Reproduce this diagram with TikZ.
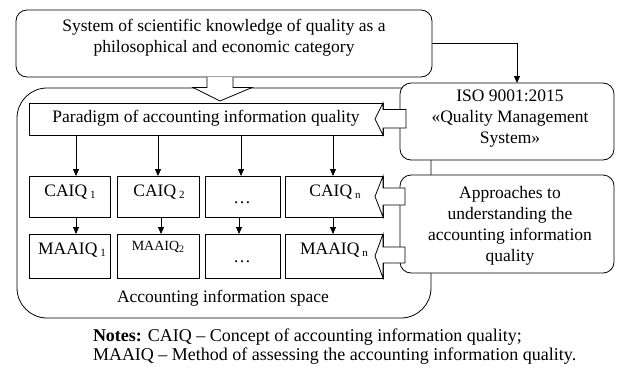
\documentclass[tikz,border=0pt]{standalone}
\usepackage{fontspec}
\setmainfont{Liberation Serif}
\usetikzlibrary{arrows.meta,calc}
\begin{document}
\begin{tikzpicture}[x=1pt,y=-1pt,
  line width=0.8pt,
  every node/.style={font=\fontsize{17.5}{21}\selectfont, inner sep=0pt, outer sep=0pt},
  rbox/.style={draw, fill=white, rounded corners=11pt, align=center},
  sbox/.style={draw, fill=white},
  arr/.style={-{Triangle[length=7pt,width=6pt]}},
  blk/.style={draw, fill=white, line join=miter},
  notefont/.style={font=\fontsize{18}{21}\selectfont}
]
\useasboundingbox (0,0) rectangle (617,367);
% outer space
\node[draw, rounded corners=30pt, minimum width=414pt, minimum height=230pt] (space) at (224,203) {};
\node (spacet) at (223,298) {Accounting information space};
% top box
\node[rbox, minimum width=416pt, minimum height=67pt] (top) at (224,43.5) {};
\node[align=center] (topt) at (224,38) {System of scientific knowledge of quality as a\\philosophical and economic category};
% right boxes
\node[rbox, minimum width=214pt, minimum height=77pt] (iso) at (507,121.5) {};
\node[align=center] (isot) at (510,118.5) {ISO 9001:2015\\«Quality Management\\System»};
\node[rbox, minimum width=214pt, minimum height=98pt] (appr) at (507,224) {};
\node[align=center] (apprt) at (510,226) {Approaches to\\understanding the\\accounting information\\quality};
% paradigm
\node[sbox, minimum width=354pt, minimum height=32pt] (par) at (206,119) {};
\node (part) at (206,118) {Paradigm of accounting information quality};
% CAIQ row
\node[sbox, minimum width=81pt, minimum height=41pt] (c1) at (69.5,196.5) {};
\node[sbox, minimum width=82pt, minimum height=41pt] (c2) at (158,196.5) {};
\node[sbox, minimum width=75pt, minimum height=41pt] (c3) at (242.5,196.5) {};
\node[sbox, minimum width=98pt, minimum height=41pt] (c4) at (334,196.5) {};
\node (c1t) at (70,192) {CAIQ\,\raisebox{-2pt}{\fontsize{11}{13}\selectfont 1}};
\node (c2t) at (159,192) {CAIQ\,\raisebox{-2pt}{\fontsize{11}{13}\selectfont 2}};
\node (c3t) at (242,203) {\dots};
\node (c4t) at (335,192) {CAIQ\,\raisebox{-2pt}{\fontsize{11}{13}\selectfont n}};
% MAAIQ row
\node[sbox, minimum width=81pt, minimum height=44pt] (m1) at (69.5,256) {};
\node[sbox, minimum width=82pt, minimum height=44pt] (m2) at (158,256) {};
\node[sbox, minimum width=75pt, minimum height=44pt] (m3) at (242.5,256) {};
\node[sbox, minimum width=98pt, minimum height=44pt] (m4) at (334,256) {};
\node (m1t) at (72,250) {MAAIQ\,\raisebox{-2pt}{\fontsize{11}{13}\selectfont 1}};
\node (m2t) at (158,247) {\fontsize{14}{16}\selectfont MAAIQ\raisebox{-2pt}{\fontsize{10}{12}\selectfont 2}};
\node (m3t) at (242,262) {\dots};
\node (m4t) at (334,250) {MAAIQ\,\raisebox{-2pt}{\fontsize{11}{13}\selectfont n}};
% arrow x positions
\coordinate (a1) at (76,0);
\coordinate (a2) at (158,0);
\coordinate (a3) at (241,0);
\coordinate (a4) at (333,0);
\coordinate (b1) at (76,0);
\coordinate (b2) at (161,0);
\coordinate (b3) at (239,0);
\coordinate (b4) at (333,0);
\draw[arr] (par.south -| a1) -- (c1.north -| a1);
\draw[arr] (par.south -| a2) -- (c2.north -| a2);
\draw[arr] (par.south -| a3) -- (c3.north -| a3);
\draw[arr] (par.south -| a4) -- (c4.north -| a4);
\draw[arr] (c1.south -| b1) -- (m1.north -| b1);
\draw[arr] (c2.south -| b2) -- (m2.north -| b2);
\draw[arr] (c3.south -| b3) -- (m3.north -| b3);
\draw[arr] (c4.south -| b4) -- (m4.north -| b4);
% connector top -> iso
\coordinate (tc) at (517,0);
\draw[arr] (top.east) -- (top.east -| tc) -- (iso.north -| tc);
% block arrow down
\draw[blk] ($(top.south)+(-17,0)$) -- ($(top.south)+(-17,10.5)$) -- ($(top.south)+(-31,10.5)$)
  -- ($(par.north)+(14,-2)$) -- ($(top.south)+(28,10.5)$) -- ($(top.south)+(9,10.5)$) -- ($(top.south)+(9,0)$);
% block arrows left
\draw[blk] (par.north east) -- ($(par.east)+(-8,0)$) -- (par.south east) -- ($(par.east)+(0,9)$)
  -- ($(par.east -| iso.west)+(6,9)$) -- ($(par.east -| iso.west)+(6,-9.5)$) -- ($(par.east)+(0,-9.5)$) -- cycle;
\draw[blk] (c4.north east) -- ($(c4.east)+(-8,0)$) -- (c4.south east) -- ($(c4.east)+(0,8.5)$)
  -- ($(c4.east -| appr.west)+(5,8.5)$) -- ($(c4.east -| appr.west)+(5,-8.5)$) -- ($(c4.east)+(0,-8.5)$) -- cycle;
\draw[blk] (m4.north east) -- ($(m4.east)+(-8,0)$) -- (m4.south east) -- ($(m4.east)+(0,7)$)
  -- ($(m4.east -| appr.west)+(5,7)$) -- ($(m4.east -| appr.west)+(5,-9)$) -- ($(m4.east)+(0,-9)$) -- cycle;
% notes
\node[anchor=west, notefont] (n1) at (93,337) {\textbf{Notes:} CAIQ – Concept of accounting information quality;};
\node[anchor=west, notefont] (n2) at (93,356) {MAAIQ – Method of assessing the accounting information quality.};
\end{tikzpicture}
\end{document}
